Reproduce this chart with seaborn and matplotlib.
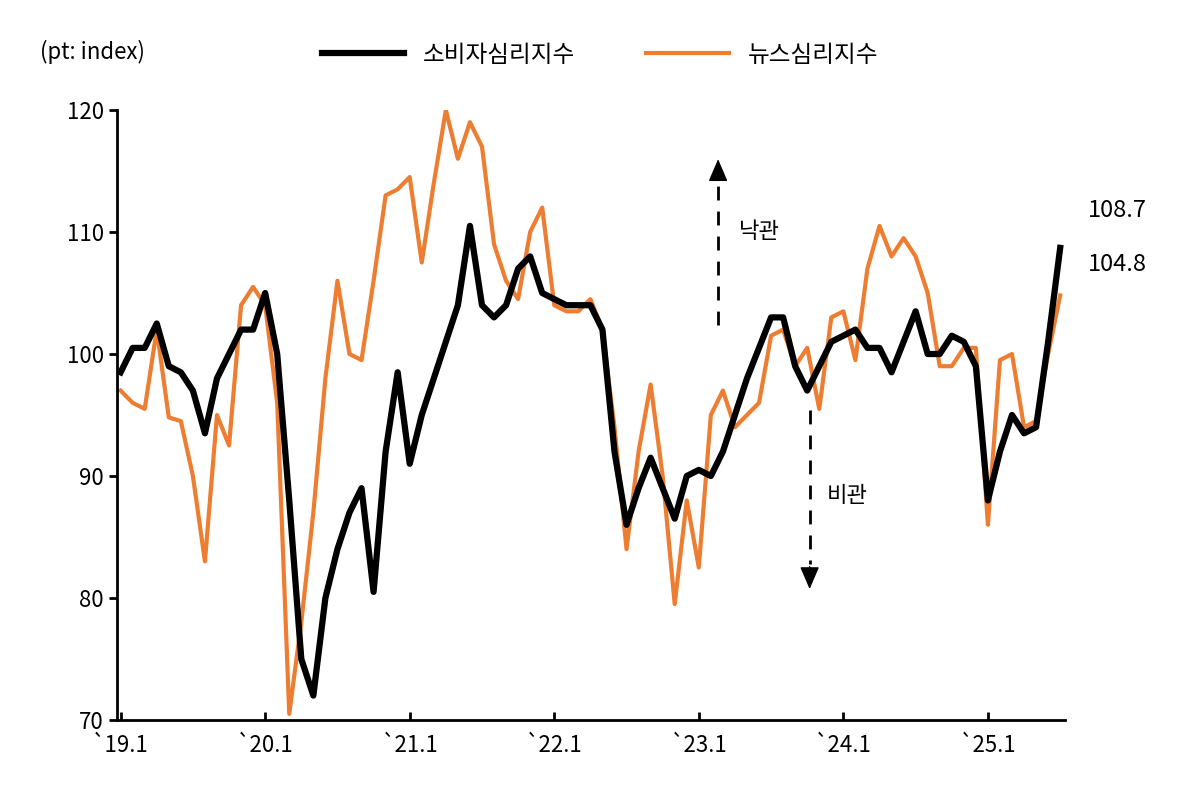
import matplotlib
matplotlib.use("Agg")
import matplotlib.pyplot as plt
import seaborn as sns
import pandas as pd

plt.rcParams["font.family"] = "Noto Sans CJK KR"

tick_labels = ["`19.1", "`20.1", "`21.1", "`22.1", "`23.1", "`24.1", "`25.1"]
ccsi = [98.5,100.5,100.5,102.5,99,98.5,97,93.5,98,100,102,102,
        105,100,88,75,72,80,84,87,89,80.5,92,98.5,
        91,95,98,101,104,110.5,104,103,104,107,108,105,
        104.5,104,104,104,102,92,86,89,91.5,89,86.5,90,
        90.5,90,92,95,98,100.5,103,103,99,97,99,101,
        101.5,102,100.5,100.5,98.5,101,103.5,100,100,101.5,101,99,
        88,92,95,93.5,94,101,108.7]
nsi = [97,96,95.5,102,94.8,94.5,90,83,95,92.5,104,105.5,
       104,96,70.5,78,87,98,106,100,99.5,106,113,113.5,
       114.5,107.5,114,120,116,119,117,109,106,104.5,110,112,
       104,103.5,103.5,104.5,102,94,84,92,97.5,90,79.5,88,
       82.5,95,97,94,95,96,101.5,102,99,100.5,95.5,103,
       103.5,99.5,107,110.5,108,109.5,108,105,99,99,100.5,100.5,
       86,99.5,100,94,94.5,100,104.8]

df = pd.DataFrame({"m": list(range(len(ccsi))) * 2,
                   "v": ccsi + nsi,
                   "s": ["소비자심리지수"] * len(ccsi) + ["뉴스심리지수"] * len(nsi)})

fig = plt.figure(figsize=(12, 8.06), dpi=100)
ax = fig.add_axes([117/1200, 1-720/806, (1065-117)/1200, (720-110)/806])
sns.lineplot(data=df[df.s == "뉴스심리지수"], x="m", y="v", color="#ED7D31", lw=3, ax=ax, label="뉴스심리지수", zorder=2)
sns.lineplot(data=df[df.s == "소비자심리지수"], x="m", y="v", color="black", lw=4.5, ax=ax, label="소비자심리지수", zorder=3)

ax.set_xlim(-0.3, 78.4)
ax.set_ylim(70, 120)
ax.set_yticks(range(70, 121, 10))
ax.set_xticks(range(0, 73, 12))
ax.set_xticklabels(tick_labels)
ax.set_xlabel(""); ax.set_ylabel("")
for s in ["top", "right"]:
    ax.spines[s].set_visible(False)
for s in ["left", "bottom"]:
    ax.spines[s].set_linewidth(2)
ax.tick_params(axis="y", direction="out", length=6, width=2, labelsize=16)
ax.tick_params(axis="x", direction="in", length=6, width=2, labelsize=16, pad=10)

h, l = ax.get_legend_handles_labels()
ax.get_legend().remove()
fig.legend(h[::-1], l[::-1], loc="center", bbox_to_anchor=(600/1200, 1-55/806), ncol=2,
           frameon=False, fontsize=17, handlelength=3.5, columnspacing=3)
fig.text(40/1200, 1-52/806, "(pt: index)", fontsize=16, va="center")

# up arrow
ax.plot([49.6, 49.6], [102.4, 114.0], ls=(0, (5, 4)), lw=2, color="black")
ax.annotate("", xy=(49.6, 116.2), xytext=(49.6, 114.0),
            arrowprops=dict(arrowstyle="-|>,head_width=0.6,head_length=1.4", lw=1, color="black"))
# down arrow
ax.plot([57.2, 57.2], [95.4, 82.8], ls=(0, (5, 4)), lw=2, color="black")
ax.annotate("", xy=(57.2, 80.5), xytext=(57.2, 82.8),
            arrowprops=dict(arrowstyle="-|>,head_width=0.6,head_length=1.4", lw=1, color="black"))
ax.text(51.3, 110, "낙관", fontsize=16, va="center")
ax.text(58.6, 88.4, "비관", fontsize=16, va="center")
ax.text(80.3, 111.8, f"{ccsi[-1]}", fontsize=17, va="center", clip_on=False)
ax.text(80.3, 107.3, f"{nsi[-1]}", fontsize=17, va="center", clip_on=False)

fig.savefig("out.png", dpi=100)
